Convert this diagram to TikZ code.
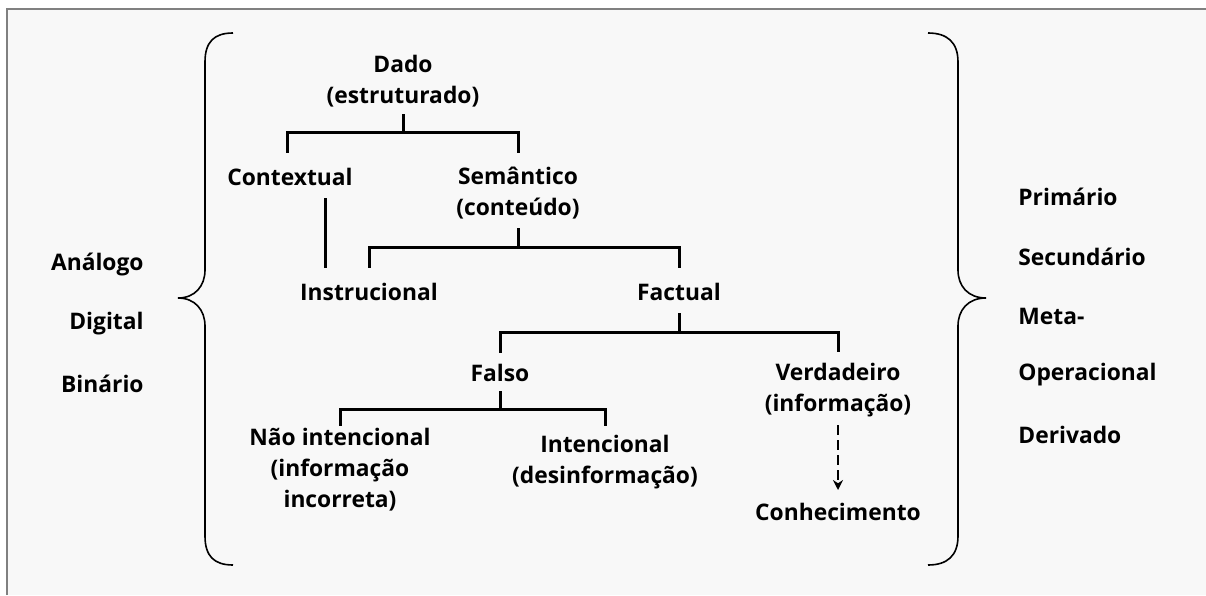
\documentclass[tikz,border=0pt]{standalone}
\usepackage{fontspec}
\setmainfont{Open Sans}
\usetikzlibrary{calc,arrows.meta}
\definecolor{bgc}{HTML}{F8F8F8}
\definecolor{bordc}{HTML}{808080}
\tikzset{
  lbl/.style={font=\fontsize{11.4}{15.5}\selectfont\bfseries, inner sep=0pt, align=center, text=black},
  conn/.style={line width=1.5pt, black},
  brace/.style={line width=0.8pt, black},
}
\begin{document}
\begin{tikzpicture}[x=0.5pt,y=-0.5pt]
\useasboundingbox (0,0) rectangle (1206,595);
\fill[white] (0,0) rectangle (1206,595);
\fill[bgc] (7,8.5) rectangle (1206,595);
\draw[bordc, line width=1pt] (7,595) -- (7,8.5) -- (1206,8.5);

% braces
\draw[brace] (233,33) .. controls (214,33) and (205,42) .. (205,62) -- (205,270)
  .. controls (205,286) and (195,298) .. (178,298)
  .. controls (195,298) and (205,310) .. (205,326) -- (205,536)
  .. controls (205,556) and (214,565) .. (233,565);
\draw[brace] (928,33) .. controls (947,33) and (958,42) .. (958,62) -- (958,270)
  .. controls (958,286) and (968,298) .. (986,298)
  .. controls (968,298) and (958,310) .. (958,326) -- (958,536)
  .. controls (958,556) and (947,565) .. (928,565);

% tree nodes
\node[lbl] (dado) at (403,81) {Dado\\(estruturado)};
\node[lbl] (ctx) at (290,177) {Contextual};
\node[lbl] (sem) at (518,193) {Semântico\\(conteúdo)};
\node[lbl] (instr) at (369,292) {Instrucional};
\node[lbl] (fact) at (679,292) {Factual};
\node[lbl] (falso) at (500,373) {Falso};
\node[lbl] (verd) at (838,390) {Verdadeiro\\(informação)};
\node[lbl] (nao) at (340,470) {Não intencional\\(informação\\incorreta)};
\node[lbl] (inten) at (605,462) {Intencional\\(desinformação)};
\node[lbl] (conh) at (838,512) {Conhecimento};

% side labels
\node[lbl, anchor=east] (ana) at (144,265) {Análogo};
\node[lbl, anchor=east] (dig) at (144,324) {Digital};
\node[lbl, anchor=east] (bin) at (144,384) {Binário};
\node[lbl, anchor=west] (pri) at (1018,197) {Primário};
\node[lbl, anchor=west] (sec) at (1018,257) {Secundário};
\node[lbl, anchor=west] (meta) at (1018,316) {Meta-};
\node[lbl, anchor=west] (oper) at (1018,375) {Operacional};
\node[lbl, anchor=west] (der) at (1018,435) {Derivado};

% connectors
\draw[conn] (dado |- 0,114) -- (dado |- 0,132) -| ([xshift=-1.5pt]ctx.center |- 0,153);
\draw[conn] (dado |- 0,132) -| (sem |- 0,153);
\coordinate (cv) at ([xshift=17.5pt]ctx.center);
\draw[conn] (cv |- 0,198) -- (cv |- 0,268);
\draw[conn] (sem |- 0,228) -- (sem |- 0,247) -| (instr |- 0,268);
\draw[conn] (sem |- 0,247) -| (fact |- 0,268);
\draw[conn] (fact |- 0,313) -- (fact |- 0,332) -| (falso |- 0,353);
\draw[conn] (fact |- 0,332) -| (verd |- 0,352);
\draw[conn] (falso |- 0,391) -- (falso |- 0,409) -| (nao |- 0,426);
\draw[conn] (falso |- 0,409) -| (inten |- 0,426);
\draw[line width=1.3pt, dash pattern=on 5pt off 2.5pt, -{Stealth[length=5pt,width=5pt]}] (verd |- 0,425) -- (conh |- 0,490);
\end{tikzpicture}
\end{document}
